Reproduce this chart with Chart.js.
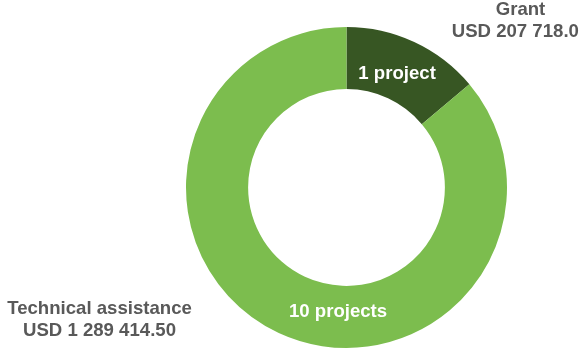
<!DOCTYPE html>
<html>
<head>
<meta charset="utf-8">
<script src="https://cdn.jsdelivr.net/npm/chart.js@4/dist/chart.umd.min.js"></script>
<style>
  html, body { margin: 0; padding: 0; background: #ffffff; }
  #wrap { width: 579px; height: 349px; position: relative; }
</style>
</head>
<body>
<div id="wrap"><canvas id="c" width="579" height="349"></canvas></div>
<script>
// Funding by project type
const categories = ['Grant', 'Technical assistance'];
const amounts = [207718.00, 1289414.50];
const projectCounts = [1, 10];
const sliceColors = ['#375623', '#7cbd4e'];

function formatUSD(v) {
  const parts = v.toFixed(2).split('.');
  return 'USD ' + parts[0].replace(/\B(?=(\d{3})+(?!\d))/g, ' ') + '.' + parts[1];
}
function projectText(n) {
  return n + (n === 1 ? ' project' : ' projects');
}

const FONT = 'bold 18.6px "Liberation Sans", Arial, sans-serif';

// Draws the in-ring project counts and the category/amount captions
const ringLabels = {
  id: 'ringLabels',
  afterDatasetsDraw(chart, args, opts) {
    const ctx = chart.ctx;
    const arcs = chart.getDatasetMeta(0).data;
    ctx.save();
    ctx.font = FONT;
    ctx.textAlign = 'center';
    ctx.textBaseline = 'middle';
    arcs.forEach((arc, i) => {
      const p = arc.getProps(['x', 'y', 'startAngle', 'endAngle', 'innerRadius', 'outerRadius'], true);
      // count inside the ring
      const a = p.startAngle + opts.alongArc[i] * (p.endAngle - p.startAngle);
      const r = p.innerRadius + opts.acrossRing * (p.outerRadius - p.innerRadius);
      ctx.fillStyle = '#ffffff';
      ctx.fillText(projectText(projectCounts[i]), p.x + r * Math.cos(a), p.y + r * Math.sin(a));
      // caption outside
      const off = opts.captionOffsets[i];
      const cx = p.x + off[0];
      const cy = p.y + off[1];
      ctx.fillStyle = '#595959';
      ctx.fillText(categories[i], cx, cy - opts.lineGap / 2);
      ctx.fillText(formatUSD(amounts[i]), cx, cy + opts.lineGap / 2);
    });
    ctx.restore();
  }
};

new Chart(document.getElementById('c'), {
  type: 'doughnut',
  data: {
    labels: categories,
    datasets: [{
      data: amounts,
      backgroundColor: sliceColors,
      borderWidth: 0,
      hoverOffset: 0
    }]
  },
  options: {
    responsive: false,
    animation: false,
    events: [],
    cutout: '61.3%',
    layout: { padding: { left: 186, right: 72, top: 27, bottom: 1 } },
    plugins: {
      legend: { display: false },
      tooltip: { enabled: false },
      ringLabels: {
        alongArc: [0.48, 0.432],
        acrossRing: 0.42,
        lineGap: 22,
        captionOffsets: [[174, -166.8], [-247, 132.5]]
      }
    }
  },
  plugins: [ringLabels]
});
</script>
</body>
</html>
